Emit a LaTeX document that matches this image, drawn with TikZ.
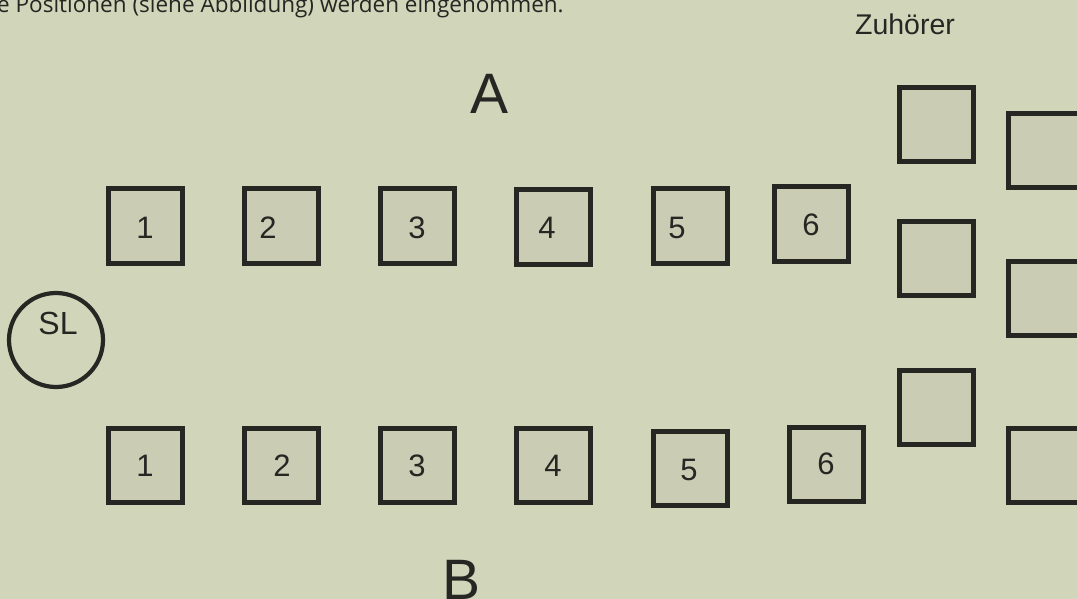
\documentclass[tikz,border=0pt]{standalone}
\usepackage{fontspec}
\setmainfont{Liberation Sans}
\newfontfamily\topfont{Open Sans}
\definecolor{bg}{HTML}{D1D5BA}
\definecolor{boxfill}{HTML}{CACDB4}
\definecolor{ink}{HTML}{262622}
\begin{document}
\begin{tikzpicture}[x=1pt,y=-1pt,
  seat/.style={draw=ink,fill=boxfill,line width=5pt,minimum size=74pt,inner sep=0pt},
  num/.style={text=ink,font=\fontsize{31}{31}\selectfont,inner sep=0pt},
  big/.style={text=ink,font=\fontsize{57}{57}\selectfont,inner sep=0pt}]
\useasboundingbox (0,0) rectangle (1077,599);
\clip (0,0) rectangle (1077,599);
\fill[bg] (0,0) rectangle (1077,599);
% top text (cut)
\node[anchor=base west,inner sep=0pt,text=ink,font=\topfont\fontsize{22.5}{22.5}\selectfont] (toptext) at (-3,13) {e Positionen (siehe Abbildung) werden eingenommen.};
% labels
\node[big,anchor=base] (A) at (490,114) {A};
\node[big,anchor=base] (B) at (462,599) {B};
\node[text=ink,font=\fontsize{28.5}{28.5}\selectfont,inner sep=0pt,anchor=base] (zh) at (905,35) {Zuhörer};
% SL
\node[draw=ink,line width=4.2pt,circle,minimum size=94pt,inner sep=0pt] (SL) at (56,340) {};
\node[num,anchor=base,font=\fontsize{32}{32}\selectfont] (SLt) at (58,334) {SL};
% row A
\node[seat] (a1) at (145,226) {};
\node[seat] (a2) at (281,226) {};
\node[seat] (a3) at (417,226) {};
\node[seat] (a4) at (553,227) {};
\node[seat] (a5) at (690,226) {};
\node[seat] (a6) at (811,224) {};
\node[num] (na1) at (145,228) {1};
\node[num] (na2) at (268,228) {2};
\node[num] (na3) at (417,228) {3};
\node[num] (na4) at (547,228) {4};
\node[num] (na5) at (677,228) {5};
\node[num] (na6) at (811,225) {6};
% row B
\node[seat] (b1) at (145,465) {};
\node[seat] (b2) at (281,465) {};
\node[seat] (b3) at (417,465) {};
\node[seat] (b4) at (553,465) {};
\node[seat] (b5) at (690,468) {};
\node[seat] (b6) at (826,464) {};
\node[num] (nb1) at (145,466) {1};
\node[num] (nb2) at (282,466) {2};
\node[num] (nb3) at (417,466) {3};
\node[num] (nb4) at (553,466) {4};
\node[num] (nb5) at (689,470) {5};
\node[num] (nb6) at (826,464) {6};
% audience
\node[seat] (z1) at (936,125) {};
\node[seat] (z2) at (936,258) {};
\node[seat] (z3) at (936,407) {};
\node[seat] (z4) at (1045,151) {};
\node[seat] (z5) at (1045,298) {};
\node[seat] (z6) at (1045,465) {};
\end{tikzpicture}
\end{document}
